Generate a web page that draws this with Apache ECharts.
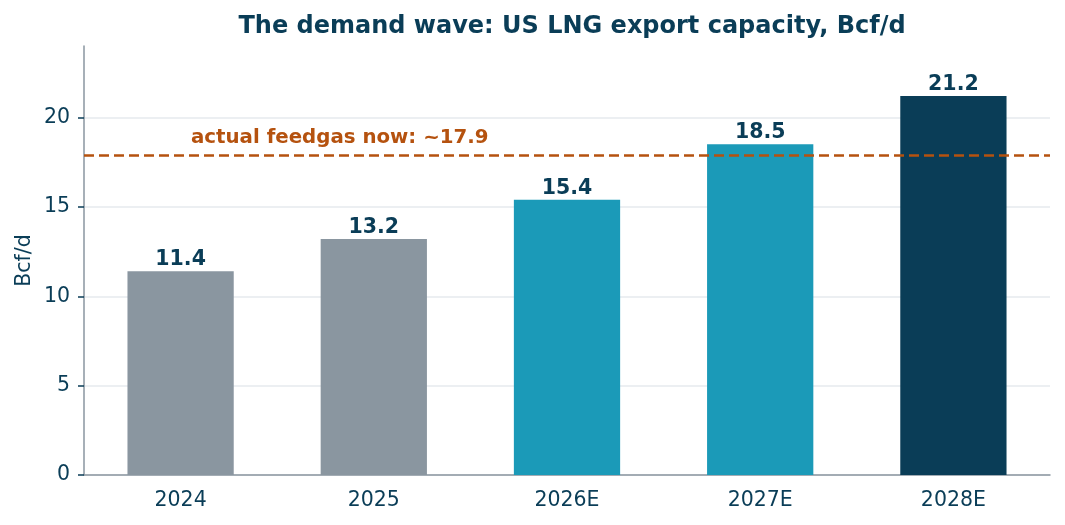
<!DOCTYPE html>
<html lang="en">
<head>
    <meta charset="UTF-8">
    <title>US LNG export capacity</title>
    <script src="https://cdn.jsdelivr.net/npm/echarts@6/dist/echarts.min.js"></script>
    <style>
        html, body { margin: 0; padding: 0; background: #fff; }
        #chart { width: 1065px; height: 525px; }
    </style>
</head>
<body>
<div id="chart"></div>
<script>
    // data
    var years = ['2024', '2025', '2026E', '2027E', '2028E'];
    var capacity = [11.4, 13.2, 15.4, 18.5, 21.2];
    var feedgasNow = 17.9;
    var yTicks = [0, 5, 10, 15, 20];

    var barColors = ['#8a96a0', '#8a96a0', '#1b9ab8', '#1b9ab8', '#0a3d57'];
    var navy = '#0a3d57';
    var orange = '#b5520f';
    var font = 'DejaVu Sans';

    // last bar sits above the dashed line, the others below it
    var lowBars = capacity.map(function (v, i) {
        return i < capacity.length - 1 ? { value: v, itemStyle: { color: barColors[i] } } : '-';
    });
    var topBar = capacity.map(function (v, i) {
        return i === capacity.length - 1 ? { value: v, itemStyle: { color: barColors[i] } } : '-';
    });

    var labelStyle = {
        show: true,
        position: 'top',
        distance: 1,
        color: navy,
        fontFamily: font,
        fontWeight: 'bold',
        fontSize: 20.5,
        formatter: function (p) { return p.value.toFixed(1); }
    };

    // grid lines at the ticks only, none at the axis max
    var gridColors = yTicks.map(function () { return '#e6eaee'; }).concat(['rgba(0,0,0,0)']);

    var chart = echarts.init(document.getElementById('chart'));
    var option = {
        animation: false,
        title: {
            text: 'The demand wave: US LNG export capacity, Bcf/d',
            left: 567,
            textAlign: 'center',
            top: 10,
            textStyle: { color: navy, fontFamily: font, fontWeight: 'bold', fontSize: 24 }
        },
        grid: { left: 84, right: 15, top: 46, bottom: 50 },
        xAxis: {
            type: 'category',
            data: years,
            axisLine: { lineStyle: { color: '#8a96a0', width: 1.5 } },
            axisTick: { alignWithLabel: true, length: 6, lineStyle: { color: navy, width: 1.5 } },
            axisLabel: { color: navy, fontFamily: font, fontSize: 20.5, margin: 15 }
        },
        yAxis: {
            type: 'value',
            min: 0,
            max: 24,
            interval: 5,
            name: 'Bcf/d',
            nameLocation: 'middle',
            nameGap: 49,
            nameMoveOverlap: false,
            nameTextStyle: { color: navy, fontFamily: font, fontSize: 20.5 },
            axisLine: { show: true, lineStyle: { color: '#8a96a0', width: 1.5 } },
            axisTick: { show: true, length: 6, lineStyle: { color: navy, width: 1.5 } },
            axisLabel: {
                color: navy, fontFamily: font, fontSize: 20.5, margin: 14,
                showMaxLabel: false,
                formatter: function (v) { return yTicks.indexOf(v) >= 0 ? String(v) : ''; }
            },
            splitLine: { lineStyle: { color: gridColors, width: 1.5 } }
        },
        series: [
            {
                type: 'bar',
                stack: 'cap',
                barWidth: '55%',
                z: 2,
                data: lowBars,
                label: labelStyle
            },
            {
                type: 'line',
                z: 3,
                data: [],
                markLine: {
                    silent: true,
                    symbol: 'none',
                    label: { show: false },
                    lineStyle: { color: orange, type: [10, 5], width: 2.5 },
                    data: [{ yAxis: feedgasNow }]
                }
            },
            {
                type: 'bar',
                stack: 'cap',
                barWidth: '55%',
                z: 4,
                data: topBar,
                label: labelStyle
            }
        ],
        graphic: [
            {
                type: 'text',
                left: 191,
                top: 128,
                style: {
                    text: 'actual feedgas now: ~' + feedgasNow,
                    fill: orange,
                    font: 'bold 19.8px "DejaVu Sans"'
                }
            }
        ]
    };
    chart.setOption(option);
</script>
</body>
</html>
